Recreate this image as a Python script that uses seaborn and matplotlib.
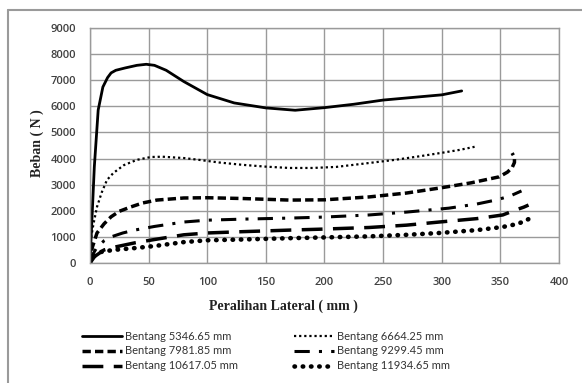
import numpy as np
import pandas as pd
import matplotlib
matplotlib.use('Agg')
import matplotlib.pyplot as plt
import seaborn as sns
from matplotlib.lines import Line2D

# Load-displacement curves
names = ['Bentang 5346.65 mm', 'Bentang 6664.25 mm', 'Bentang 7981.85 mm',
         'Bentang 9299.45 mm', 'Bentang 10617.05 mm', 'Bentang 11934.65 mm']

x1 = [0, 1.5, 3.7, 7, 11, 15, 18, 22, 30, 40, 48, 55, 65, 80, 100, 123, 150, 175, 200, 225, 250, 275, 300, 317]
y1 = [0, 1500, 3680, 5860, 6740, 7100, 7280, 7380, 7470, 7570, 7610, 7570, 7380, 6950, 6450, 6130, 5940, 5850, 5950, 6080, 6240, 6340, 6440, 6590]

x2 = [0, 0.6, 3, 6, 10, 14.5, 20, 29, 40, 52, 62, 80, 93, 110, 130, 150, 170, 190, 210, 238, 260, 280, 300, 315, 328]
y2 = [0, 880, 1500, 2150, 2700, 3180, 3450, 3750, 3950, 4060, 4070, 4020, 3950, 3850, 3760, 3690, 3640, 3640, 3680, 3830, 3950, 4080, 4220, 4330, 4450]

x3 = [0, 2, 6, 12, 18, 25, 35, 45, 57, 80, 100, 130, 170, 200, 238, 270, 298, 325, 349, 356, 360, 362, 362, 360]
y3 = [0, 600, 1150, 1500, 1770, 1980, 2150, 2300, 2410, 2490, 2500, 2470, 2410, 2420, 2530, 2680, 2870, 3070, 3300, 3480, 3650, 3850, 4050, 4210]

x4 = [0, 2, 6, 12, 18, 28, 38, 55, 80, 100, 130, 170, 200, 238, 270, 306, 330, 346, 358, 368]
y4 = [0, 300, 610, 850, 1000, 1150, 1260, 1400, 1570, 1640, 1680, 1720, 1760, 1840, 1950, 2100, 2260, 2410, 2560, 2760]

x5 = [0, 4, 12, 20, 38, 55, 80, 100, 130, 170, 200, 238, 270, 298, 330, 352, 363, 370, 374]
y5 = [0, 250, 500, 600, 770, 900, 1080, 1150, 1200, 1260, 1300, 1360, 1450, 1570, 1700, 1840, 2030, 2140, 2220]

x6 = [0, 3, 9, 20, 38, 55, 80, 100, 130, 170, 200, 238, 270, 298, 330, 352, 365, 376]
y6 = [0, 250, 420, 500, 570, 650, 800, 870, 900, 950, 980, 1020, 1080, 1150, 1260, 1380, 1500, 1720]

xs = [x1, x2, x3, x4, x5, x6]
ys = [y1, y2, y3, y4, y5, y6]

styles = [
    dict(linestyle='-', linewidth=2.0),
    dict(linestyle=(0, (1, 1.3)), linewidth=1.6),
    dict(linestyle=(0, (2.4, 1.2)), linewidth=2.5),
    dict(linestyle=(0, (5, 3, 1, 3)), linewidth=2.2),
    dict(linestyle=(0, (6, 3)), linewidth=2.5),
    dict(linestyle=(0, (0.1, 1.7)), linewidth=3.3, dash_capstyle='round'),
]


def main():
    sns.set_style('white')
    fig = plt.figure(figsize=(5.82, 3.83), dpi=100)
    ax = fig.add_axes([0.1546, 0.3133, 0.8059, 0.6136])

    for name, x, y, st in zip(names, xs, ys, styles):
        df = pd.DataFrame({'x': x, 'y': y})
        sns.lineplot(data=df, x='x', y='y', ax=ax, sort=False, estimator=None,
                     color='black', **st)

    ax.set_xlim(0, 400)
    ax.set_ylim(0, 9000)
    ax.set_xticks(np.arange(0, 401, 50))
    ax.set_yticks(np.arange(0, 9001, 1000))
    ax.grid(True, color='#9a9a9a', linewidth=1.0)
    for sp in ax.spines.values():
        sp.set_color('#9a9a9a')
        sp.set_linewidth(1.0)
    ax.tick_params(length=0, labelsize=8, labelcolor='#404040', pad=10)
    for lab in ax.get_xticklabels() + ax.get_yticklabels():
        lab.set_family('Open Sans')
        lab.set_fontweight('semibold')
    ax.set_xlabel('')
    ax.set_ylabel('')

    fig.text(283 / 582, 1 - 306 / 383, 'Peralihan Lateral ( mm )', ha='center', va='center',
             family='Liberation Serif', fontweight='bold', fontsize=10, color='#222222')
    fig.text(37 / 582, 1 - 143 / 383, 'Beban ( N )', ha='center', va='center', rotation=90,
             family='Liberation Serif', fontweight='bold', fontsize=10, color='#222222')

    # legend is filled row by row in the reference
    order = [0, 2, 4, 1, 3, 5]
    handles = [Line2D([], [], color='black', **styles[i]) for i in order]
    labels = [names[i] for i in order]
    fig.legend(handles, labels, ncol=2, frameon=False, loc='center',
               bbox_to_anchor=(266 / 582, 1 - 351 / 383),
               prop={'family': 'Lato', 'size': 8}, labelcolor='#333333',
               handlelength=3.6, handletextpad=0.25, columnspacing=5.0,
               labelspacing=0.35)

    # outer chart frame
    fig.add_artist(Line2D([8 / 582, 8 / 582], [0, 1 - 10 / 383], color='#9a9a9a', lw=1.5,
                          transform=fig.transFigure))
    fig.add_artist(Line2D([8 / 582, 1], [1 - 10 / 383, 1 - 10 / 383], color='#9a9a9a', lw=1.5,
                          transform=fig.transFigure))

    fig.savefig('out.png', dpi=100)


if __name__ == '__main__':
    main()
